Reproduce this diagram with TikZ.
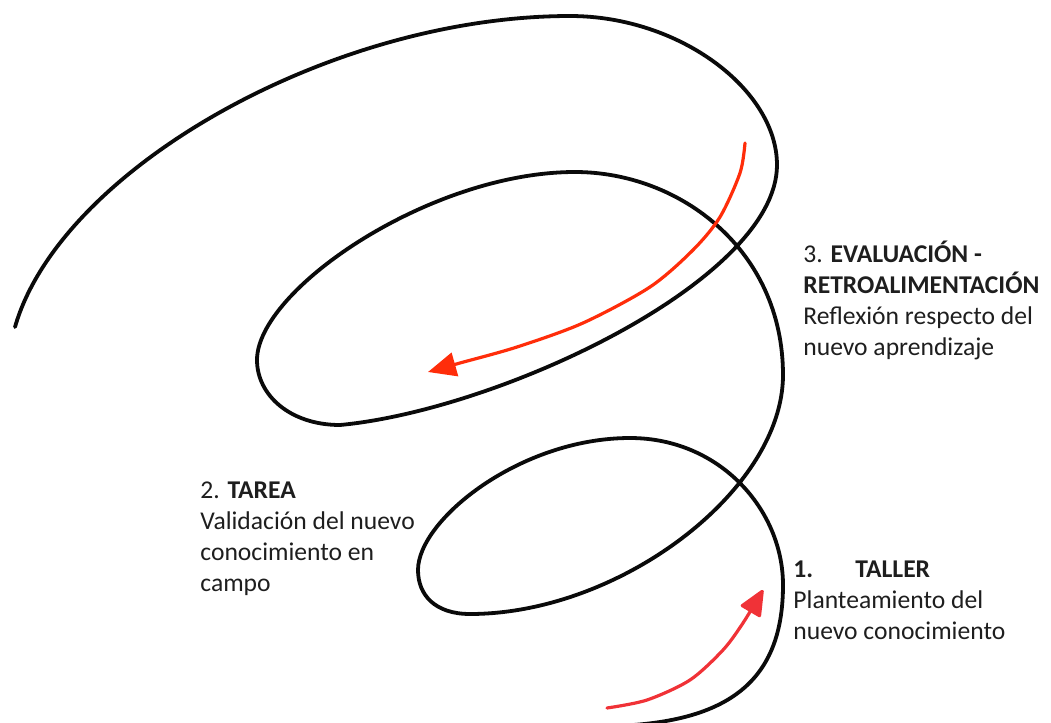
\documentclass[tikz,border=0pt]{standalone}
\usepackage{fontspec}
\setmainfont{Carlito}
\usetikzlibrary{arrows.meta}
\definecolor{spiralline}{RGB}{10,10,10}
\definecolor{backarrow}{RGB}{255,45,10}
\definecolor{startarrow}{RGB}{240,50,55}
\definecolor{labeltext}{RGB}{30,30,30}
\tikzstyle{spiral}=[line width=1.9pt, line join=round, line cap=round, draw=spiralline]
\tikzstyle{redarrow}=[line width=1.6pt, line cap=round]
\tikzstyle{stage}=[inner sep=0pt, anchor=north west, align=left, text=labeltext,
    font=\fontsize{12.8}{15.5}\selectfont]

\begin{document}
\begin{tikzpicture}[x=0.5pt, y=-0.5pt]
    \useasboundingbox (0,0) rectangle (1051,723);

    % the spiral, from the outer end to the bottom
    \draw[spiral] (15,327)
        .. controls (60,170) and (330,16) .. (570,16)
        .. controls (680,16) and (777,90) .. (777,165)
        .. controls (777,280) and (500,410) .. (340,425)
        .. controls (290,425) and (257,395) .. (257,360)
        .. controls (257,290) and (430,172) .. (575,172)
        .. controls (680,172) and (783,250) .. (783,375)
        .. controls (783,490) and (620,614) .. (470,614)
        .. controls (435,614) and (418,595) .. (418,570)
        .. controls (418,520) and (520,438) .. (630,438)
        .. controls (720,438) and (783,510) .. (783,585)
        .. controls (783,680) and (730,722) .. (615,726);

    % red arrows
    \draw[redarrow, color=backarrow, -{Triangle[length=14pt, width=12pt]}]
        plot[smooth] coordinates {(745,143) (740,173) (720,217) (693,250)
        (650,287) (583,323) (517,347) (460,363) (428,372)};
    \draw[redarrow, color=startarrow, -{Triangle[length=14pt, width=12pt, round]}]
        plot[smooth] coordinates {(607,708) (647,700) (690,680) (723,650)
        (743,623) (763,590)};

    % stages
    \node[stage] (evaluacion) at (803,240)
        {\strut 3. \textbf{EVALUACIÓN -}\\\textbf{RETROALIMENTACIÓN}\\Reflexión respecto del\\nuevo aprendizaje};
    \node[stage] (tarea) at (200,476)
        {\strut 2. \textbf{TAREA}\\Validación del nuevo\\conocimiento en\\campo};
    \node[stage] (taller) at (793,555)
        {\strut\makebox[31pt][l]{\textbf{1.}}\textbf{TALLER}\\Planteamiento del\\nuevo conocimiento};
\end{tikzpicture}
\end{document}
